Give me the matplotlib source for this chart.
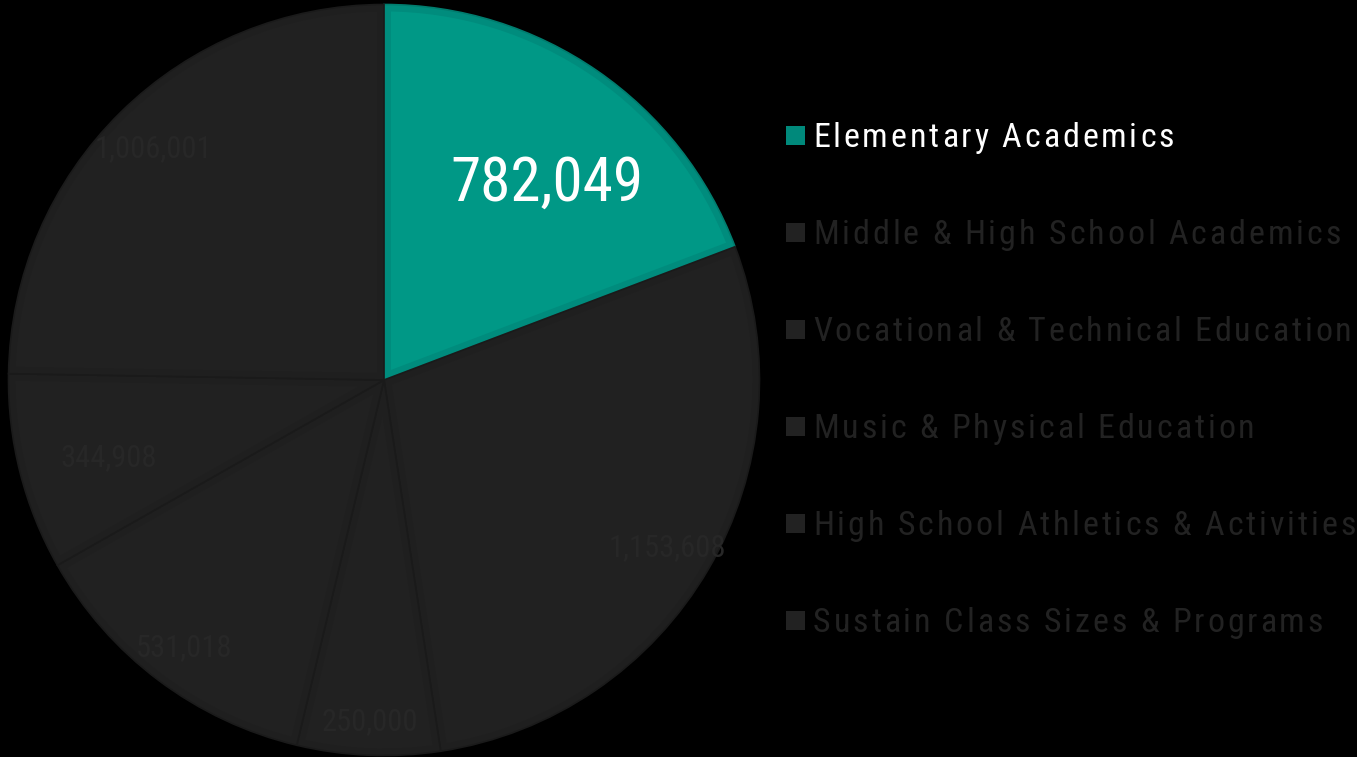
import matplotlib
matplotlib.use("Agg")
import matplotlib.pyplot as plt
from matplotlib import font_manager
from matplotlib.font_manager import FontProperties
from matplotlib.patches import Wedge, Rectangle
import numpy as np

# ---- data ----
categories = [
    "Elementary Academics",
    "Middle & High School Academics",
    "Vocational & Technical Education",
    "Music & Physical Education",
    "High School Athletics & Activities",
    "Sustain Class Sizes & Programs",
]
values = [782049, 1153608, 250000, 531018, 344908, 1006001]
value_labels = [f"{v:,}" for v in values]
highlight = 0

# ---- style ----
BG = "#000000"
TEAL = "#009886"
TEAL_BAND = "#008c7d"
TEAL_EDGE = "#007c6e"
DARK = "#212121"
DARK_BAND = "#1f1f1f"
DARK_EDGE = "#1a1a1a"
LEGEND_TEAL = "#00897b"
LEGEND_DARK = "#222222"


def pick_narrow():
    """Return a narrow sans face, if one is installed."""
    candidates = [
        ("Liberation Sans Narrow", "normal"),
        ("Roboto Condensed", "normal"),
        ("Open Sans Condensed", "normal"),
        ("Roboto", "condensed"),
        ("Open Sans", "condensed"),
        ("DejaVu Sans", "condensed"),
        ("Noto Sans", "condensed"),
    ]
    for fam, stretch in candidates:
        try:
            path = font_manager.findfont(FontProperties(family=fam, stretch=stretch),
                                         fallback_to_default=False)
        except ValueError:
            continue
        low = path.lower()
        if "narrow" in low or "condensed" in low or "cond" in low:
            return fam, stretch, True
    return "Liberation Sans", "normal", False


FAM, STRETCH, IS_NARROW = pick_narrow()


def fp(size):
    return FontProperties(family=FAM, stretch=STRETCH, size=size)


W, H = 1357, 757
fig = plt.figure(figsize=(W / 100, H / 100), dpi=100, facecolor=BG)
ax = fig.add_axes([0, 0, 1, 1])
ax.set_facecolor(BG)

cx, cy, R = 384.0, 377.0, 375.5
colors = [TEAL if i == highlight else DARK for i in range(len(values))]
wedges, _ = ax.pie(values, startangle=90, counterclock=False, colors=colors,
                   center=(cx, cy), radius=R,
                   wedgeprops=dict(linewidth=0))
ax.set_xlim(0, W)
ax.set_ylim(0, H)
ax.set_aspect("equal")
ax.axis("off")

# inner bevel band and thin separators on each slice
for i, w in enumerate(wedges):
    band = TEAL_BAND if i == highlight else DARK_BAND
    edge = TEAL_EDGE if i == highlight else DARK_EDGE
    inner = Wedge((cx, cy), R, w.theta1, w.theta2, facecolor="none",
                  edgecolor=band, linewidth=10)
    ax.add_patch(inner)
    inner.set_clip_path(w)
    outline = Wedge((cx, cy), R, w.theta1, w.theta2, facecolor="none",
                    edgecolor=edge, linewidth=1.2)
    ax.add_patch(outline)

# value labels: (radius fraction, angle offset in degrees)
label_place = [(0.69, -4.3), (0.875, 0.0), (0.905, 0.0), (0.885, 0.0), (0.76, 1.0), (0.875, 0.0)]
big = 44 if IS_NARROW else 40
small = 22 if IS_NARROW else 19
for i, w in enumerate(wedges):
    mid = np.deg2rad((w.theta1 + w.theta2) / 2 + label_place[i][1])
    r = label_place[i][0] * R
    x = cx + r * np.cos(mid)
    y = cy + r * np.sin(mid)
    if i == highlight:
        size, col = big, "#ffffff"
    else:
        size, col = small, "#272727"
    cap = size / 0.72 * 0.716
    ax.text(x, y - cap / 2, value_labels[i], ha="center", va="baseline",
            color=col, fontproperties=fp(size))

# ---- legend with letter spacing ----
renderer = fig.canvas.get_renderer()
leg_size = 24.5 if IS_NARROW else 22.5
leg_prop = fp(leg_size)


def char_width(ch, prop):
    w1, _, _ = renderer.get_text_width_height_descent("|" + ch + "|", prop, ismath=False)
    w0, _, _ = renderer.get_text_width_height_descent("||", prop, ismath=False)
    return w1 - w0


def natural_width(s, prop):
    return sum(char_width(c, prop) for c in s)


def draw_tracked(x0, y, s, track, color, prop):
    x = x0
    for ch in s:
        if ch != " ":
            ax.text(x, y, ch, ha="left", va="baseline", color=color, fontproperties=prop)
        x += char_width(ch, prop) + track


first = categories[0]
track = (361.0 - natural_width(first, leg_prop)) / (len(first) - 1)

row0 = 135.0
step = 97.0
for i, name in enumerate(categories):
    yc = H - (row0 + i * step)
    sq = Rectangle((786, yc - 9.5), 19, 19,
                   facecolor=LEGEND_TEAL if i == highlight else LEGEND_DARK,
                   edgecolor="none")
    ax.add_patch(sq)
    draw_tracked(813, yc - 12, name, track,
                 "#ffffff" if i == highlight else LEGEND_DARK, leg_prop)

fig.savefig("out.png", dpi=100, facecolor=BG)
